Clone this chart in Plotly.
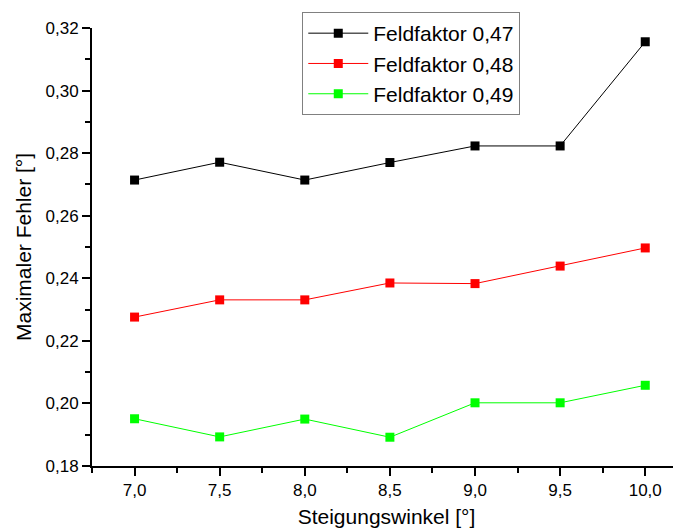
import plotly.graph_objects as go

x_vals = [7.0, 7.5, 8.0, 8.5, 9.0, 9.5, 10.0]
ff047 = [0.2714, 0.2771, 0.2714, 0.2770, 0.2823, 0.2823, 0.3156]
ff048 = [0.2276, 0.2331, 0.2331, 0.2385, 0.2383, 0.2439, 0.2497]
ff049 = [0.1951, 0.1893, 0.1950, 0.1892, 0.2002, 0.2002, 0.2058]
names = ["Feldfaktor 0,47", "Feldfaktor 0,48", "Feldfaktor 0,49"]
colors = ["#000000", "#ff0000", "#00ff00"]

fig = go.Figure()
for ys, nm, c in zip([ff047, ff048, ff049], names, colors):
    fig.add_trace(go.Scatter(x=x_vals, y=ys, name=nm, mode="lines+markers",
                             line=dict(color=c, width=1),
                             marker=dict(symbol="square", size=9, color=c)))

font = "Liberation Sans, Arial, sans-serif"
fig.update_layout(
    width=673, height=524,
    margin=dict(l=84, r=0, t=20, b=66),
    plot_bgcolor="white", paper_bgcolor="white",
    separators=",.",
    font=dict(family=font, size=17, color="black"),
    showlegend=True,
    legend=dict(x=0.357, y=1.0365, xanchor="left", yanchor="top",
                bordercolor="#808080", borderwidth=1, bgcolor="white",
                font=dict(size=21), tracegroupgap=0, itemwidth=60),
    xaxis=dict(range=[6.75, 10.21], tick0=7, dtick=0.5, tickformat=".1f",
               showline=True, linecolor="black", linewidth=2,
               ticks="outside", ticklen=8, tickwidth=2, tickcolor="black",
               showgrid=False, zeroline=False,
               minor=dict(ticks="outside", ticklen=5, tickwidth=2, tickcolor="black", dtick=0.25, tick0=6.75, showgrid=False),
               title=dict(text="Steigungswinkel [°]", font=dict(size=21), standoff=10),
               tickfont=dict(size=17)),
    yaxis=dict(range=[0.18, 0.32], tick0=0.18, dtick=0.02, tickformat=".2f",
               showline=True, linecolor="black", linewidth=2,
               ticks="outside", ticklen=8, tickwidth=2, tickcolor="black",
               showgrid=False, zeroline=False,
               minor=dict(ticks="outside", ticklen=5, tickwidth=2, tickcolor="black", dtick=0.01, tick0=0.18, showgrid=False),
               title=dict(text="Maximaler Fehler [°]", font=dict(size=21), standoff=8),
               tickfont=dict(size=17)),
)
fig.write_html("out.html")
